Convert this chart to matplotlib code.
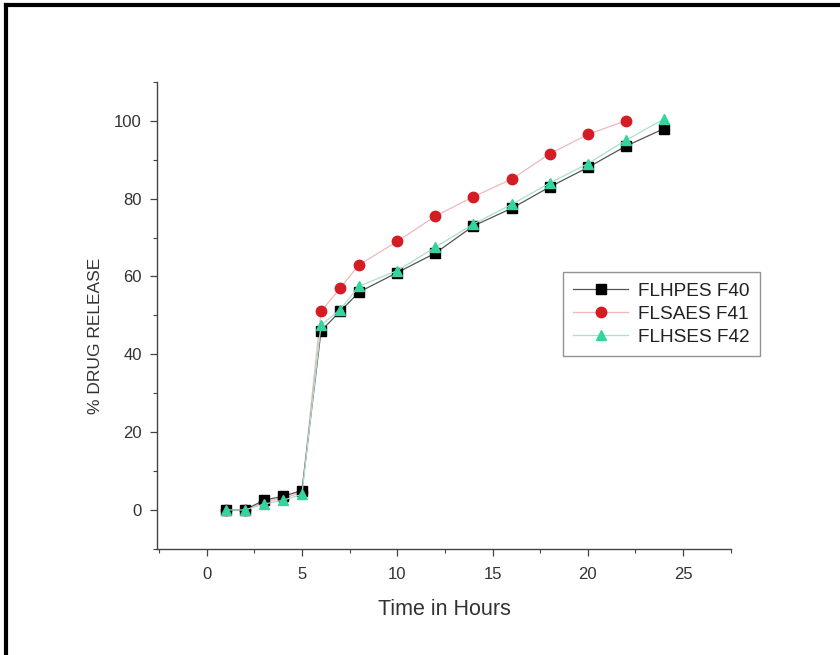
import matplotlib.pyplot as plt
from matplotlib.lines import Line2D
from matplotlib.ticker import MultipleLocator

plt.rcParams['font.family'] = ['Liberation Sans', 'DejaVu Sans']

hours = [1, 2, 3, 4, 5, 6, 7, 8, 10, 12, 14, 16, 18, 20, 22, 24]
f40 = [0, 0, 2.5, 3.5, 5, 46, 51, 56, 61, 66, 73, 77.5, 83, 88, 93.5, 98]
hours_f41 = [1, 2, 3, 4, 5, 6, 7, 8, 10, 12, 14, 16, 18, 20, 22]
f41 = [0, 0, 2, 3, 4.5, 51, 57, 63, 69, 75.5, 80.5, 85, 91.5, 96.5, 100]
f42 = [0, 0, 1.5, 2.5, 4, 47.5, 51.5, 57.5, 61.5, 67.5, 73.5, 78.5, 84, 89, 95, 100.5]

fig = plt.figure(figsize=(8.4, 6.55), dpi=100)
ax = fig.add_axes([0.187, 0.162, 0.683, 0.713])

ax.plot(hours, f40, color='#555555', lw=0.9, marker='s', ms=6.5,
        mfc='black', mec='black', label='FLHPES F40', zorder=3)
ax.plot(hours_f41, f41, color='#f2b8b8', lw=0.9, marker='o', ms=7.5,
        mfc='#d41c24', mec='#d41c24', label='FLSAES F41', zorder=2)
ax.plot(hours, f42, color='#a8e0cc', lw=0.9, marker='^', ms=7.5,
        mfc='#35d39e', mec='#35d39e', label='FLHSES F42', zorder=4)

ax.set_xlim(-2.6, 27.5)
ax.set_ylim(-10, 110)
ax.xaxis.set_minor_locator(MultipleLocator(2.5))
ax.yaxis.set_minor_locator(MultipleLocator(10))
ax.set_xticks([0, 5, 10, 15, 20, 25])
ax.set_yticks([0, 20, 40, 60, 80, 100])

for s in ['top', 'right']:
    ax.spines[s].set_visible(False)
for s in ['left', 'bottom']:
    ax.spines[s].set_color('#444444')
    ax.spines[s].set_linewidth(1.0)

ax.tick_params(which='major', direction='out', length=5, width=0.9,
               color='#444444', labelsize=12, labelcolor='#333333')
ax.tick_params(axis='x', which='major', pad=8)
ax.tick_params(axis='y', which='major', pad=6)
ax.tick_params(which='minor', direction='out', length=3, width=0.8,
               color='#444444')

ax.set_xlabel('Time in Hours', fontsize=15.5, color='#333333')
ax.xaxis.set_label_coords(0.50, -0.107)
ax.set_ylabel('% DRUG RELEASE', fontsize=12.5, color='#333333')
ax.yaxis.set_label_coords(-0.094, 0.456)

leg = ax.legend(loc='upper left', bbox_to_anchor=(0.670, 0.585),
                bbox_transform=fig.transFigure, borderaxespad=0,
                fontsize=13.7, frameon=True, fancybox=False,
                edgecolor='#777777', handlelength=2.9, labelspacing=0.3,
                borderpad=0.55, handletextpad=0.5)
leg.get_frame().set_linewidth(1.0)
for t in leg.get_texts():
    t.set_color('#222222')

# black frame on top and left of the picture
fig.add_artist(Line2D([0.007, 1.0], [0.992, 0.992], color='black', lw=3,
                      transform=fig.transFigure))
fig.add_artist(Line2D([0.007, 0.007], [0.0, 0.992], color='black', lw=3,
                      transform=fig.transFigure))

fig.savefig('out.png', dpi=100)
